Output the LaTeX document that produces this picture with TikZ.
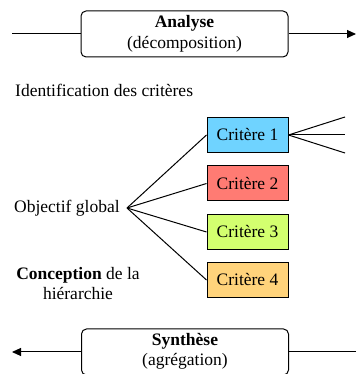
\documentclass[tikz,border=0pt]{standalone}
\usepackage{fontspec}
\setmainfont{Liberation Serif}
\usetikzlibrary{arrows.meta}
\begin{document}
\begin{tikzpicture}[x=1pt,y=1pt,
  font=\fontsize{17.5}{20}\selectfont,
  phase/.style={draw, line width=1pt, rounded corners=5pt, minimum width=207pt, minimum height=46pt, inner sep=0pt},
  crit/.style={draw, line width=1pt, minimum width=81pt, minimum height=35pt, inner sep=0pt},
  lbl/.style={inner sep=0pt},
  conn/.style={line width=1pt},
  arr/.style={line width=1pt, -{Triangle[length=9pt,width=8pt]}}]
\useasboundingbox (0,0) rectangle (356,374);
\begin{scope}
\clip (0,0) rectangle (356,374);
% top phase
\node[phase] (ana) at (184.5,340) {};
\node[lbl] (anat) at (184.5,351) {\textbf{Analyse}};
\node[lbl] (anas) at (184.5,330) {(décomposition)};
\coordinate (tl) at (12,340);
\coordinate (tr) at (356,340);
\draw[conn] (tl) -- (ana.west);
\draw[arr] (ana.east) -- (tr);
% label
\node[lbl, anchor=west] (ident) at (15,284) {Identification des critères};
% criteria
\definecolor{c1}{HTML}{6FD3FF}
\definecolor{c2}{HTML}{FF7B73}
\definecolor{c3}{HTML}{D3FF6F}
\definecolor{c4}{HTML}{FFD37B}
\node[crit, fill=c1] (k1) at (247.5,239) {Critère 1};
\node[crit, fill=c2] (k2) at (247.5,190.5) {Critère 2};
\node[crit, fill=c3] (k3) at (247.5,142) {Critère 3};
\node[crit, fill=c4] (k4) at (247.5,94) {Critère 4};
\node[lbl, anchor=west] (obj) at (14,166) {Objectif global};
\coordinate (o) at (127,166);
\foreach \k in {k1,k2,k3,k4} \draw[conn] (o) -- (\k.west);
\coordinate (s1) at (345,257);
\coordinate (s2) at (345,239);
\coordinate (s3) at (345,221);
\foreach \s in {s1,s2,s3} \draw[conn] (k1.east) -- (\s);
\node[lbl, align=center] (conc) at (78,90.5) {\textbf{Conception} de la\\hiérarchie};
% bottom phase
\node[phase] (syn) at (185,22) {};
\node[lbl] (synt) at (185,33) {\textbf{Synthèse}};
\node[lbl] (syns) at (185,13) {(agrégation)};
\coordinate (bl) at (12,22);
\coordinate (br) at (356,22);
\draw[conn] (br) -- (syn.east);
\draw[arr] (syn.west) -- (bl);
\end{scope}
\end{tikzpicture}
\end{document}
